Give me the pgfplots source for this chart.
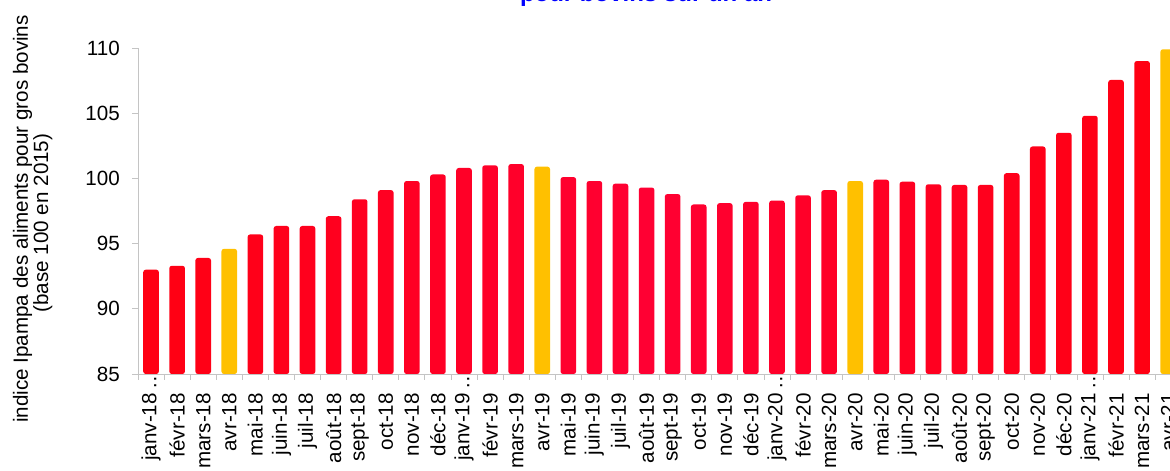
\documentclass[border=0pt]{standalone}
\usepackage{fontspec}
\setmainfont{Liberation Sans}
\usepackage{pgfplots}
\pgfplotsset{compat=1.18}
\definecolor{crim}{RGB}{255,0,51}
\definecolor{redb}{RGB}{255,0,18}
\definecolor{gold}{RGB}{255,192,0}
\definecolor{axgray}{RGB}{196,196,196}
\newcommand{\lblfont}{\fontsize{20.6}{24}\selectfont}
\newcommand{\tr}{\rlap{\,…}}

\begin{document}
\begin{tikzpicture}
\begin{axis}[
  at={(138pt,97pt)}, anchor=south west,
  scale only axis, width=1032pt, height=326pt,
  xmin=-0.5, xmax=39.07, ymin=85, ymax=110,
  axis x line*=bottom, axis y line*=left,
  axis line style={draw=axgray, line width=0.8pt},
  ybar, bar width=15.6pt, bar shift=0pt,
  xtick={0,...,39},
  xticklabels={janv-18\tr, févr-18, mars-18, avr-18, mai-18, juin-18, juil-18, août-18, sept-18, oct-18, nov-18, déc-18,
    janv-19\tr, févr-19, mars-19, avr-19, mai-19, juin-19, juil-19, août-19, sept-19, oct-19, nov-19, déc-19,
    janv-20\tr, févr-20, mars-20, avr-20, mai-20, juin-20, juil-20, août-20, sept-20, oct-20, nov-20, déc-20,
    janv-21\tr, févr-21, mars-21, avr-21},
  minor xtick={-0.5,0.5,...,39.5},
  ytick={85,90,...,110}, minor ytick={85,90,...,110},
  major tick length=0pt, minor tick length=6pt, tick align=outside,
  every tick/.style={draw=axgray, line width=0.8pt},
  every minor tick/.style={draw=axgray, line width=0.8pt},
  xticklabel style={rotate=90, anchor=east, inner sep=0pt, font=\lblfont},
  yticklabel style={anchor=east, inner sep=0pt, font=\lblfont},
  xticklabel shift=19pt, yticklabel shift=18pt,
  /pgf/number format/assume math mode=true,
]
  \addplot[draw=none, left color=redb, right color=redb, middle color=crim, rounded corners=2.5pt]
    coordinates {(0,93.0)(1,93.3)(2,93.9)(4,95.7)(5,96.35)(6,96.35)(7,97.1)(8,98.4)(9,99.1)(10,99.8)(11,100.3)
      (12,100.8)(13,101.0)(14,101.1)(16,100.1)(17,99.8)(18,99.6)(19,99.3)(20,98.8)(21,98.0)(22,98.1)(23,98.2)
      (24,98.3)(25,98.7)(26,99.1)(28,99.9)(29,99.75)(30,99.55)(31,99.5)(32,99.5)(33,100.4)(34,102.45)(35,103.5)
      (36,104.8)(37,107.55)(38,109.0)};
  \addplot[draw=none, fill=gold, rounded corners=2.5pt]
    coordinates {(3,94.6)(15,100.9)(27,99.8)(39,109.9)};
\end{axis}
\node[rotate=90, anchor=base, font=\lblfont] at (28pt,252pt) {indice Ipampa des aliments pour gros bovins};
\node[rotate=90, anchor=base, font=\lblfont] at (48pt,248pt) {(base 100 en 2015)};
\node[anchor=base, text=blue, font=\fontsize{24}{28}\selectfont\bfseries] at (646pt,469.5pt) {pour bovins sur un an};
\pgfresetboundingbox
\useasboundingbox (0,0) rectangle (1170pt,471pt);
\end{tikzpicture}
\end{document}
